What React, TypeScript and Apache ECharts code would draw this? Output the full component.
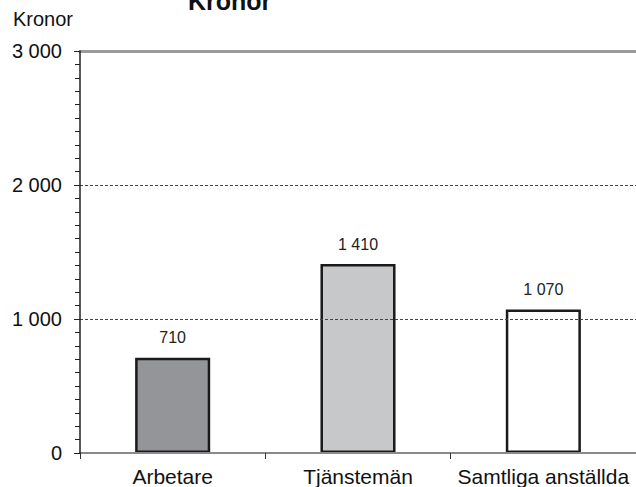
import React, { useEffect, useRef } from "react";
import * as echarts from "echarts";

const categories = ["Arbetare", "Tjänstemän", "Samtliga anställda"];
const values = [710, 1410, 1070];
const barColors = ["#939598", "#c7c8ca", "#ffffff"];
const yTicks = [0, 1000, 2000, 3000];

const fmt = (n: number, sep = " ") => String(Math.round(n)).replace(/\B(?=(\d{3})+(?!\d))/g, sep);
const FONT = "'Liberation Sans', Arial, sans-serif";

export default function App() {
  const ref = useRef<HTMLDivElement>(null);
  useEffect(() => {
    if (!ref.current) return;
    const chart = echarts.init(ref.current, undefined, { renderer: "svg" });
    chart.setOption({
      animation: false,
      textStyle: { fontFamily: FONT },
      grid: { left: 80, right: -7, top: 51, bottom: 34, containLabel: false },
      graphic: [
        { type: "text", left: 13, top: 9, style: { text: "Kronor", font: `20px ${FONT}`, fill: "#111" } },
        { type: "text", left: 188, top: -12, style: { text: "Kronor", font: `bold 25px ${FONT}`, fill: "#111" } },
      ],
      xAxis: [
        {
          type: "category",
          data: categories,
          position: "bottom",
          axisLine: { show: true, lineStyle: { color: "#8a8a8a", width: 2 } },
          axisTick: { show: true, length: 6, lineStyle: { color: "#333", width: 1 } },
          axisLabel: { color: "#111", fontSize: 21, margin: 13, fontFamily: FONT, interval: 0 },
          z: 5,
        },
        {
          type: "category",
          data: categories,
          position: "top",
          axisLine: { show: true, lineStyle: { color: "#9a9a9a", width: 3 } },
          axisTick: { show: false },
          axisLabel: { show: false },
          z: 5,
        },
      ],
      yAxis: {
        type: "value",
        min: yTicks[0],
        max: yTicks[yTicks.length - 1],
        interval: 1000,
        axisLine: { show: true, lineStyle: { color: "#222", width: 1.5 } },
        axisTick: { show: true, length: 6, lineStyle: { color: "#222", width: 1 } },
        minorTick: { show: true, splitNumber: 10, length: 5, lineStyle: { color: "#222", width: 1 } },
        axisLabel: {
          color: "#111",
          fontSize: 20,
          margin: 18,
          fontFamily: FONT,
          formatter: (v: number) => fmt(v),
        },
        splitLine: {
          show: true,
          lineStyle: { color: ["transparent", "#444", "#444", "transparent"], type: [3, 2], width: 1 },
        },
        z: 6,
      },
      series: [
        {
          type: "bar",
          xAxisIndex: 0,
          barWidth: "40.5%",
          data: values.map((v, i) => ({
            value: v,
            itemStyle: { color: barColors[i], borderColor: "#1a1a1a", borderWidth: 2.5 },
          })),
          label: {
            show: true,
            position: "top",
            distance: 12,
            color: "#222",
            fontSize: 16,
            fontFamily: FONT,
            formatter: (p: any) => fmt(p.value),
          },
        },
      ],
    });
    return () => chart.dispose();
  }, []);
  return <div ref={ref} style={{ position: "absolute", left: 0, top: 0, width: 636, height: 487 }} />;
}
